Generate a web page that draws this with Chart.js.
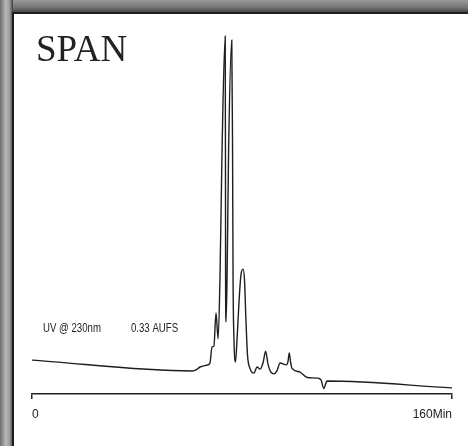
<!DOCTYPE html>
<html>
<head>
<meta charset="utf-8">
<script src="https://cdn.jsdelivr.net/npm/chart.js@4/dist/chart.umd.min.js"></script>
<style>
  html, body { margin: 0; padding: 0; }
  body { width: 468px; height: 446px; position: relative; overflow: hidden; background: #8a8a8a; }
  #topband { position: absolute; left: 0; top: 0; width: 468px; height: 13px;
    background: linear-gradient(to bottom, #9a9a9a, #767676 55%, #3e3e3e); }
  #leftband { position: absolute; left: 0; top: 0; width: 13px; height: 446px;
    background: linear-gradient(to right, #6e6e6e, #b8b8b8 45%, #9a9a9a 75%, #3a3a3a); }
  #panel { position: absolute; left: 12px; top: 12px; width: 456px; height: 434px; background: #fff;
    border-left: 2px solid #1e1e1e; border-top: 2px solid #1e1e1e; box-sizing: border-box; }
  #wrap { position: absolute; left: 0; top: 0; width: 468px; height: 446px; }
</style>
</head>
<body>
<div id="topband"></div>
<div id="leftband"></div>
<div id="panel"></div>
<div id="wrap"><canvas id="chart" width="468" height="446"></canvas></div>
<script>
const titleText = "SPAN";
const noteLeft = "UV @ 230nm";
const noteRight = "0.33 AUFS";

// retention time (min) and detector signal (% of full scale)
const times = [0, 61.0, 62.5, 64.0, 67.0, 67.8, 68.6, 69.3, 70.1, 70.9, 71.6, 72.4, 73.6, 73.7, 73.75,
  73.9, 74.3, 74.9, 76.1, 76.4, 76.6, 76.95, 77.5, 78.1, 78.9, 79.6, 80.4, 80.95, 81.5, 82.1, 83.0,
  84.6, 85.7, 86.9, 88.0, 89.0, 89.9, 91.0, 92.2, 93.3, 94.5, 96.8, 97.5, 98.0, 98.5, 99.0, 102.1,
  104.8, 109.0, 110.1, 111.2, 112.0, 112.4, 160];
const signal = [9.4, 6.4, 6.7, 7.5, 8.1, 8.6, 13.1, 13.3, 22.5, 15.3, 31.7, 67.8, 99.4, 67.8, 31.7,
  20.0, 31.7, 67.8, 98.3, 67.8, 31.7, 15.0, 8.9, 15.0, 26.1, 33.1, 34.7, 31.7, 20.6, 10.8, 7.2,
  5.8, 7.5, 6.9, 8.6, 11.9, 8.3, 6.1, 5.6, 6.4, 8.6, 8.1, 8.9, 11.4, 8.9, 7.2, 6.1,
  4.6, 4.4, 3.9, 1.5, 3.1, 3.6, 1.7];
const tickValues = [0, 160];
const tickLabels = ["0", "160Min"];

const sans = "'Liberation Sans', Arial, sans-serif";

// the labels in the original use a condensed face, so squeeze them horizontally
const notes = {
  id: "notes",
  afterDraw(chart) {
    const c = chart.ctx;
    c.save();
    c.fillStyle = "#222";
    c.textBaseline = "alphabetic";
    c.font = "37px 'Liberation Serif', 'Times New Roman', serif";
    c.fillText(titleText, 36, 61);
    c.font = "13px " + sans;
    c.scale(0.74, 1);
    c.fillText(noteLeft, 43 / 0.74, 332);
    c.fillText(noteRight, 131 / 0.74, 332);
    c.restore();
  }
};

new Chart(document.getElementById("chart"), {
  type: "line",
  data: {
    datasets: [{
      data: times.map((t, i) => ({ x: t, y: signal[i] })),
      borderColor: "#1e1e1e",
      borderWidth: 1.4,
      pointRadius: 0,
      cubicInterpolationMode: "monotone",
      fill: false
    }]
  },
  options: {
    responsive: false,
    animation: false,
    layout: { autoPadding: false, padding: { left: 32, right: 16, top: 34, bottom: 0 } },
    plugins: { legend: { display: false }, tooltip: { enabled: false } },
    scales: {
      x: {
        type: "linear", min: 0, max: 160,
        afterBuildTicks(scale) { scale.ticks = tickValues.map(v => ({ value: v })); },
        afterFit(scale) { scale.height = 52; },
        border: { display: true, color: "#222", width: 1.5 },
        grid: { drawOnChartArea: false, drawTicks: true, tickLength: 5, color: "#222", lineWidth: 1.5 },
        ticks: {
          align: "inner", padding: 8, color: "#222", maxRotation: 0,
          font: { family: sans, size: 12 },
          callback: (v) => tickLabels[tickValues.indexOf(v)]
        }
      },
      y: { min: 0, max: 100, display: false }
    }
  },
  plugins: [notes]
});
</script>
</body>
</html>
